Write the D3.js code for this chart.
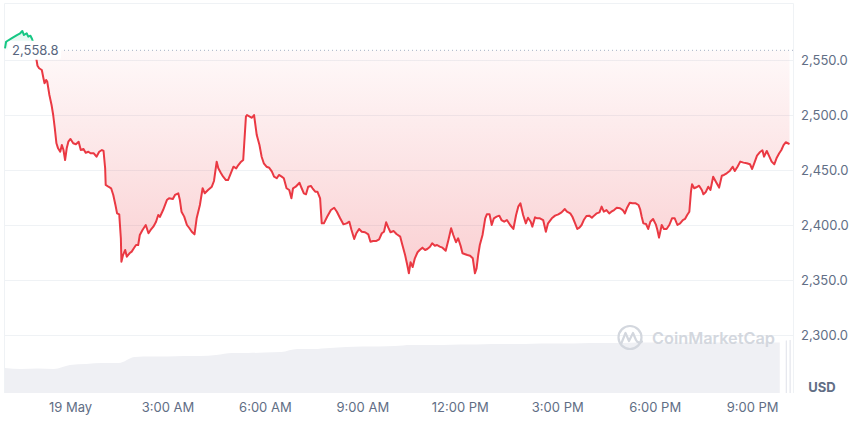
<!DOCTYPE html>
<html><head><meta charset="utf-8">
<script src="https://cdn.jsdelivr.net/npm/d3@7"></script>
<style>html,body{margin:0;padding:0;background:#fff;} svg{display:block;font-family:Inter,"Noto Sans",sans-serif;}</style>
</head><body><svg id="chart" width="860" height="424"></svg>
<script>
const baseDate = new Date(2023, 4, 19, 0, 0);
const priceMinutes = [
-120,-118,-108,-98,-92,-88,-85,-80,-77,-73,
-70,-66,-60,-57,-52,-49,-47,-44,-42,-38,
-34,-31,-28,-25,-22,-18,-15,-12,-9,-6,
-3,1,6,11,16,20,25,29,34,38,
44,49,54,59,62,65,66,71,76,80,
84,87,91,94,95,98,102,105,110,114,
118,122,126,129,134,140,145,149,154,159,
163,166,172,179,183,190,194,200,203,206,
211,216,220,225,230,234,240,245,249,255,
262,266,271,274,279,283,288,292,297,302,
307,311,315,320,325,327,332,336,340,345,
350,354,358,363,368,373,377,382,386,391,
395,400,405,409,412,417,424,428,432,436,
440,445,448,453,457,462,465,469,475,482,
488,493,499,505,511,516,520,525,529,534,
539,545,551,555,560,566,571,576,580,584,
588,592,598,603,610,614,619,623,626,629,
633,637,642,646,651,656,660,665,669,674,
678,683,688,694,699,704,708,713,717,722,
725,730,734,739,744,748,751,754,757,762,
767,770,775,779,783,788,793,797,802,807,
813,819,824,828,832,837,842,846,851,854,
859,863,868,874,879,883,890,896,902,908,
914,918,924,928,933,937,941,945,949,954,
959,964,968,973,978,982,986,991,996,1000,
1005,1010,1016,1021,1025,1029,1034,1039,1045,1050,
1053,1056,1059,1064,1068,1072,1077,1082,1085,1088,
1093,1097,1102,1107,1112,1117,1122,1127,1132,1136,
1140,1144,1147,1149,1153,1157,1162,1167,1170,1174,
1179,1183,1188,1193,1199,1204,1208,1213,1219,1224,
1228,1233,1238,1244,1250,1256,1260,1265,1269,1274,
1279,1282,1287,1291,1296,1301,1305,1310,1314,1318,
1322,1326,1329];
const prices = [
2560.6,2566.6,2569.7,2572.7,2574.3,2576.4,2572.7,2574.3,2571.2,2572.1,
2569.1,2562.7,2544.8,2542.5,2540.9,2533.4,2528.8,2531.8,2530.3,2518.2,
2509.1,2500.0,2487.9,2474.3,2469.7,2466.6,2472.7,2468.2,2459.1,2469.7,
2475.7,2478.2,2474.3,2473.4,2475.7,2468.2,2469.1,2465.7,2466.6,2465.2,
2465.2,2462.1,2466.6,2468.2,2467.3,2451.5,2436.4,2434.8,2433.4,2427.3,
2418.2,2410.6,2409.7,2387.9,2366.6,2372.7,2377.3,2371.2,2374.3,2375.8,
2378.8,2381.8,2381.8,2390.9,2395.5,2400.0,2392.5,2395.5,2398.5,2403.0,
2409.1,2407.3,2413.6,2422.7,2424.3,2423.6,2427.3,2428.8,2422.7,2412.1,
2407.6,2400.0,2397.5,2393.9,2391.5,2406.1,2418.2,2433.4,2428.8,2431.8,
2434.8,2440.0,2457.6,2451.5,2447.0,2443.9,2440.9,2440.9,2447.0,2453.0,
2451.5,2454.5,2457.0,2459.1,2498.5,2500.0,2498.5,2497.5,2500.0,2481.8,
2472.7,2462.1,2456.1,2453.0,2452.1,2448.5,2444.0,2442.5,2445.5,2444.0,
2442.5,2433.4,2431.8,2424.3,2433.4,2434.8,2438.4,2433.4,2428.8,2427.9,
2434.8,2435.5,2433.4,2430.3,2430.3,2424.3,2401.5,2401.5,2407.5,2413.6,
2415.7,2412.1,2406.1,2400.6,2401.5,2403.0,2395.5,2387.3,2392.5,2396.4,
2393.9,2393.4,2391.5,2384.8,2385.5,2385.5,2387.0,2392.5,2393.9,2402.5,
2397.6,2393.4,2394.5,2391.8,2389.4,2381.8,2372.7,2363.6,2356.1,2366.1,
2361.8,2369.7,2375.2,2377.3,2379.4,2377.3,2378.2,2380.3,2383.4,2381.2,
2381.8,2380.3,2379.4,2376.6,2386.4,2397.0,2390.9,2384.3,2387.9,2380.3,
2374.3,2373.4,2372.7,2372.1,2369.7,2356.1,2360.6,2372.7,2381.8,2390.9,
2406.1,2409.7,2409.7,2400.0,2406.1,2407.6,2408.5,2404.5,2403.0,2404.5,
2400.0,2396.4,2409.1,2416.7,2419.7,2409.1,2401.5,2406.6,2403.0,2398.5,
2407.0,2406.1,2406.1,2404.5,2393.9,2401.5,2406.1,2408.5,2409.7,2411.5,
2414.5,2412.1,2410.6,2407.5,2401.5,2396.4,2397.6,2400.0,2404.5,2408.2,
2408.5,2406.6,2408.5,2410.6,2411.5,2416.7,2412.1,2413.6,2410.6,2412.1,
2413.6,2415.7,2415.2,2413.6,2410.6,2415.7,2420.3,2419.7,2419.7,2418.2,
2414.5,2407.5,2401.5,2400.9,2396.4,2403.0,2405.5,2400.6,2395.5,2388.5,
2400.0,2396.4,2396.4,2400.0,2406.1,2406.1,2400.0,2401.5,2404.5,2405.5,
2409.1,2412.1,2430.3,2437.0,2433.4,2434.3,2435.7,2431.8,2427.9,2429.7,
2434.8,2431.8,2443.9,2439.4,2434.0,2444.8,2445.5,2447.0,2449.4,2453.0,
2449.1,2453.0,2457.6,2456.7,2456.1,2455.2,2450.9,2457.6,2463.0,2466.1,
2467.9,2462.1,2467.3,2463.0,2457.6,2455.2,2460.6,2465.2,2468.2,2472.7,
2475.2,2474.3,2473.6];
const openPrice = 2558.8;
const volumeMinutes = [-120,-90,-60,-30,0,30,60,90,120,150,180,210,240,270,300,330,360,390,420,450,480,510,540,570,600,630,660,690,720,750,780,810,840,870,900,930,960,990,1020,1050,1080,1110,1140,1170,1200,1230,1260,1290,1311];
const volumes = [5.0,4.8,4.9,4.8,5.6,5.8,6.0,6.0,7.2,7.3,7.3,7.4,7.4,7.6,8.0,8.0,8.1,8.2,8.8,8.8,9.0,9.2,9.3,9.3,9.4,9.6,9.6,9.6,9.7,9.7,9.8,9.8,9.8,9.9,9.9,9.9,10.0,10.0,10.0,10.1,10.1,10.1,10.1,10.1,10.1,10.1,10.1,10.1,10.1];
const volumeSpikeMinutes = [1322, 1329];
const volumeSpikes = [10.5, 10.6];
const yTicks = [2300, 2350, 2400, 2450, 2500, 2550];
const xTickHours = [0, 3, 6, 9, 12, 15, 18, 21];
const xTickLabels = ["19 May","3:00 AM","6:00 AM","9:00 AM","12:00 PM","3:00 PM","6:00 PM","9:00 PM"];
const currencyLabel = "USD";
const brandLabel = "CoinMarketCap";

const RED = "#ea3943", GREEN = "#16c784", GRID = "#eff2f5", TXT = "#616e85";
const svg = d3.select("#chart");
const toDate = m => d3.timeMinute.offset(baseDate, m);
const data = priceMinutes.map((m, i) => ({t: toDate(m), v: prices[i]}));

const x = d3.scaleTime().domain(d3.extent(data, d => d.t)).range([5, 789.5]);
const y = d3.scaleLinear().domain([2300, 2550]).range([335, 60]);
const yv = d3.scaleLinear().domain([0, 12]).range([393, 333]);
const plotL = 4.5, plotR = 793.5, plotT = 3.5, plotB = 393;
const yBase = y(openPrice);

// frame
svg.append("line").attr("x1", plotL).attr("x2", plotR).attr("y1", plotT).attr("y2", plotT).attr("stroke", GRID);
svg.append("line").attr("x1", plotL).attr("x2", plotL).attr("y1", plotT).attr("y2", plotB).attr("stroke", GRID);
svg.append("line").attr("x1", plotR).attr("x2", plotR).attr("y1", plotT).attr("y2", plotB).attr("stroke", GRID);

// gridlines
svg.append("g").selectAll("line").data(yTicks).join("line")
  .attr("x1", plotL).attr("x2", plotR).attr("y1", d => Math.round(y(d)) + 0.5).attr("y2", d => Math.round(y(d)) + 0.5)
  .attr("stroke", GRID);

// volume
const volData = volumeMinutes.map((m, i) => ({t: toDate(m), v: volumes[i]}));
svg.append("path").datum(volData)
  .attr("d", d3.area().curve(d3.curveMonotoneX).x(d => x(d.t)).y0(yv(0)).y1(d => yv(d.v)))
  .attr("fill", "#eff0f4");
svg.append("g").selectAll("rect").data(volumeSpikeMinutes.map((m, i) => ({t: toDate(m), v: volumeSpikes[i]}))).join("rect")
  .attr("x", d => x(d.t)).attr("width", 1.3).attr("y", d => yv(d.v)).attr("height", d => yv(0) - yv(d.v))
  .attr("fill", "#e6e8ee");

// watermark
const wm = svg.append("g").attr("fill", "none").attr("stroke", "#d3d7de").attr("stroke-width", 2.2).attr("stroke-linecap", "round").attr("stroke-linejoin", "round");
wm.append("circle").attr("cx", 630).attr("cy", 337.5).attr("r", 11.5);
wm.append("path").attr("d", "M621.5,343 L625.5,333 L629,341 L633,333 L636,340 C637.5,343 640,343 642,341.5");
svg.append("text").attr("x", 652).attr("y", 343.5).attr("font-size", 16).attr("font-weight", 600)
  .attr("fill", "#d3d7de").attr("textLength", 123).attr("lengthAdjust", "spacingAndGlyphs").text(brandLabel);

// gradients
const defs = svg.append("defs");
const gR = defs.append("linearGradient").attr("id", "gRed").attr("gradientUnits", "userSpaceOnUse")
  .attr("x1", 0).attr("x2", 0).attr("y1", yBase).attr("y2", y(d3.min(prices)));
gR.append("stop").attr("offset", 0).attr("stop-color", RED).attr("stop-opacity", 0.03);
gR.append("stop").attr("offset", 1).attr("stop-color", RED).attr("stop-opacity", 0.24);
const gG = defs.append("linearGradient").attr("id", "gGreen").attr("gradientUnits", "userSpaceOnUse")
  .attr("x1", 0).attr("x2", 0).attr("y1", yBase).attr("y2", y(d3.max(prices)));
gG.append("stop").attr("offset", 0).attr("stop-color", GREEN).attr("stop-opacity", 0.03);
gG.append("stop").attr("offset", 1).attr("stop-color", GREEN).attr("stop-opacity", 0.15);
defs.append("clipPath").attr("id", "cAbove").append("rect").attr("x", 0).attr("y", 0).attr("width", 860).attr("height", yBase);
defs.append("clipPath").attr("id", "cBelow").append("rect").attr("x", 0).attr("y", yBase).attr("width", 860).attr("height", 424 - yBase);

const area = d3.area().x(d => x(d.t)).y0(yBase).y1(d => y(d.v));
const line = d3.line().x(d => x(d.t)).y(d => y(d.v));
svg.append("path").datum(data).attr("d", area).attr("fill", "url(#gRed)").attr("clip-path", "url(#cBelow)");
svg.append("path").datum(data).attr("d", area).attr("fill", "url(#gGreen)").attr("clip-path", "url(#cAbove)");

// baseline dotted
svg.append("line").attr("x1", 60).attr("x2", plotR).attr("y1", yBase).attr("y2", yBase)
  .attr("stroke", "#a6b0c3").attr("stroke-width", 1).attr("stroke-dasharray", "1,3");

svg.append("path").datum(data).attr("d", line).attr("fill", "none").attr("stroke", RED).attr("stroke-width", 2)
  .attr("stroke-linejoin", "round").attr("clip-path", "url(#cBelow)");
svg.append("path").datum(data).attr("d", line).attr("fill", "none").attr("stroke", GREEN).attr("stroke-width", 2)
  .attr("stroke-linejoin", "round").attr("clip-path", "url(#cAbove)");

// open price label
svg.append("rect").attr("x", 8).attr("y", yBase - 9.5).attr("width", 53).attr("height", 19).attr("rx", 3).attr("fill", "#fff");
svg.append("text").attr("x", 12).attr("y", yBase + 1.5).attr("dominant-baseline", "middle")
  .attr("font-size", 13).attr("fill", "#58667e").text(d3.format(",.1f")(openPrice));

// y axis labels
svg.append("g").selectAll("text").data(yTicks).join("text")
  .attr("x", 801).attr("y", d => y(d) + 5).attr("font-size", 13).attr("fill", TXT)
  .text(d => d3.format(",.1f")(d));
svg.append("text").attr("x", 822).attr("y", 392).attr("text-anchor", "middle").attr("font-size", 13)
  .attr("font-weight", 700).attr("fill", TXT).text(currencyLabel);

// x axis
const xAxis = d3.axisBottom(x).tickValues(xTickHours.map(h => d3.timeHour.offset(baseDate, h)))
  .tickFormat((d, i) => xTickLabels[i]).tickSize(0).tickPadding(0);
const gx = svg.append("g").attr("transform", "translate(0,403)").call(xAxis);
gx.select(".domain").remove();
gx.selectAll("text").attr("font-size", 13).attr("font-family", "Inter,'Noto Sans',sans-serif").attr("fill", TXT).attr("dy", "0.71em");
</script></body></html>
